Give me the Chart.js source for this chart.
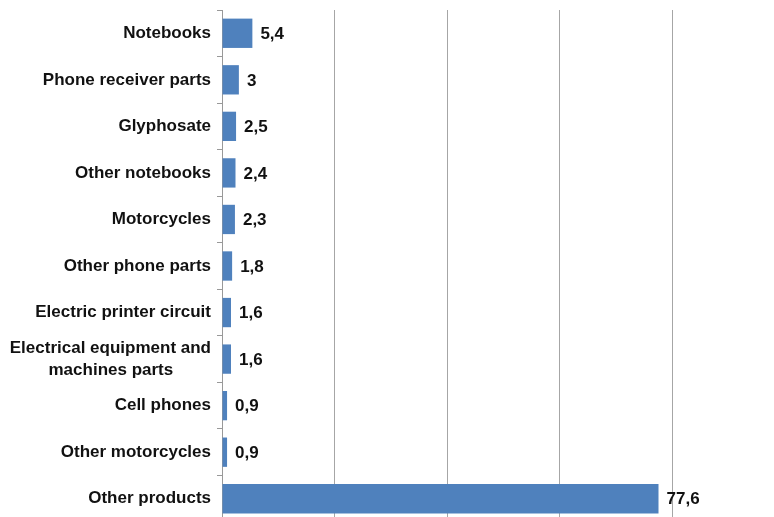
<!DOCTYPE html>
<html>
<head>
<meta charset="utf-8">
<script src="https://cdn.jsdelivr.net/npm/chart.js@4"></script>
<style>
  html, body { margin: 0; padding: 0; background: #fff; overflow: hidden; }
  #wrap { width: 774px; height: 522px; }
</style>
</head>
<body>
<div id="wrap"><canvas id="myChart"></canvas></div>
<script>
const labels = [
  'Notebooks',
  'Phone receiver parts',
  'Glyphosate',
  'Other notebooks',
  'Motorcycles',
  'Other phone parts',
  'Electric printer circuit',
  /* second line padded so it sits centred under the first */
  ['Electrical equipment and', 'machines parts        '],
  'Cell phones',
  'Other motorcycles',
  'Other products',
];

const values = [5.4, 3, 2.5, 2.4, 2.3, 1.8, 1.6, 1.6, 0.9, 0.9, 77.6];

const xTicks = [0, 20, 40, 60, 80];

const FONT = { family: 'Liberation Sans, Arial, Helvetica, sans-serif', size: 17, weight: 'bold', lineHeight: 1.3 };

/* value text at the end of each bar */
const valueLabels = {
  id: 'valueLabels',
  afterDatasetsDraw(chart) {
    const ctx = chart.ctx;
    const meta = chart.getDatasetMeta(0);
    ctx.save();
    ctx.font = 'bold 17px ' + FONT.family;
    ctx.fillStyle = '#111111';
    ctx.textAlign = 'left';
    ctx.textBaseline = 'middle';
    meta.data.forEach((bar, i) => {
      const txt = String(values[i]).replace('.', ',');
      ctx.fillText(txt, bar.x + 8, bar.y + 1);
    });
    ctx.restore();
  }
};

const data = {
  labels: labels,
  datasets: [{
    backgroundColor: '#4F81BD',
    borderWidth: 0,
    data: values,
    barPercentage: 0.63,
    categoryPercentage: 1,
  }]
};

const config = {
  type: 'bar',
  data: data,
  options: {
    indexAxis: 'y',
    responsive: true,
    maintainAspectRatio: false,
    animation: false,
    layout: {
      padding: { top: 10, right: 102, bottom: 0, left: 0 }
    },
    scales: {
      x: {
        min: 0,
        max: 80,
        afterBuildTicks(scale) {
          scale.ticks = xTicks.map(v => ({ value: v }));
        },
        ticks: { display: false },
        border: { display: false },
        grid: {
          color: '#a6a6a6',
          lineWidth: 1,
          drawTicks: false,
        }
      },
      y: {
        afterFit(scale) {
          scale.width = 222;
          scale.paddingTop = 0;
          scale.paddingBottom = 0;
        },
        ticks: {
          color: '#111111',
          font: FONT,
          padding: 6,
          autoSkip: false,
        },
        border: { display: true, color: '#999999', width: 1 },
        grid: {
          drawOnChartArea: false,
          drawTicks: true,
          tickLength: 5,
          color: '#999999',
        }
      }
    },
    plugins: {
      legend: { display: false },
      tooltip: { enabled: false }
    }
  },
  plugins: [valueLabels]
};

const myChart = new Chart(
  document.getElementById('myChart'),
  config
);
</script>
</body>
</html>
